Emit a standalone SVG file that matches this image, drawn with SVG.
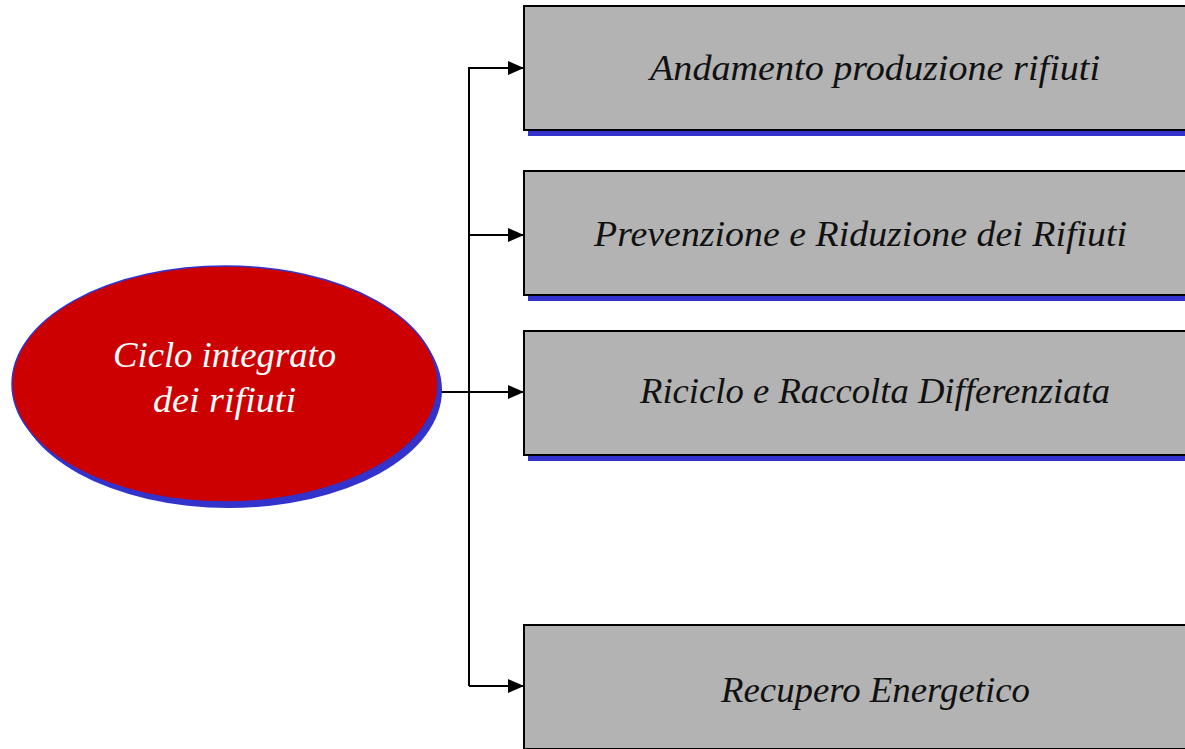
<svg xmlns="http://www.w3.org/2000/svg" width="1185" height="749" viewBox="0 0 1185 749">
<style>
.box{fill:#b3b3b3;stroke:#000;stroke-width:2}
.sh{fill:#3333cc}
.t{font-family:"Liberation Serif","DejaVu Serif",serif;font-style:italic;font-size:35px;fill:#111;text-anchor:middle}
.w{fill:#fff}
.c{stroke:#000;stroke-width:2;fill:none}
</style>
<defs>
<marker id="ah" markerWidth="16" markerHeight="14" refX="15" refY="7" orient="auto" markerUnits="userSpaceOnUse">
<path d="M0,0 L16,7 L0,14 Z" fill="#000"/>
</marker>
</defs>
<g id="connectors">
<path class="c" d="M469,686 V68 H523" marker-end="url(#ah)"/>
<path class="c" d="M469,235 H523" marker-end="url(#ah)"/>
<path class="c" d="M437,392 H523" marker-end="url(#ah)"/>
<path class="c" d="M469,686 H523" marker-end="url(#ah)"/>
</g>
<g id="center">
<ellipse class="sh" cx="229" cy="390" rx="213" ry="118"/>
<ellipse cx="225" cy="384" rx="213" ry="118" fill="#cc0000" stroke="#3333cc" stroke-width="1.5"/>
<text class="t w" x="224.5" y="367" textLength="223" lengthAdjust="spacingAndGlyphs">Ciclo integrato</text>
<text class="t w" x="224.5" y="412" textLength="143" lengthAdjust="spacingAndGlyphs">dei rifiuti</text>
</g>
<g id="n1">
<rect class="sh" x="528" y="10" width="670" height="126"/>
<rect class="box" x="524" y="6" width="670" height="124"/>
<text class="t" x="875" y="80" textLength="450" lengthAdjust="spacingAndGlyphs">Andamento produzione rifiuti</text>
</g>
<g id="n2">
<rect class="sh" x="528" y="175" width="670" height="126"/>
<rect class="box" x="524" y="171" width="670" height="124"/>
<text class="t" x="860.5" y="246" textLength="533" lengthAdjust="spacingAndGlyphs">Prevenzione e Riduzione dei Rifiuti</text>
</g>
<g id="n3">
<rect class="sh" x="528" y="335" width="670" height="126"/>
<rect class="box" x="524" y="331" width="670" height="124"/>
<text class="t" x="875" y="403" textLength="470" lengthAdjust="spacingAndGlyphs">Riciclo e Raccolta Differenziata</text>
</g>
<g id="n4">
<rect class="sh" x="528" y="629" width="670" height="126"/>
<rect class="box" x="524" y="625" width="670" height="124"/>
<text class="t" x="875.5" y="702" textLength="309" lengthAdjust="spacingAndGlyphs">Recupero Energetico</text>
</g>
</svg>
